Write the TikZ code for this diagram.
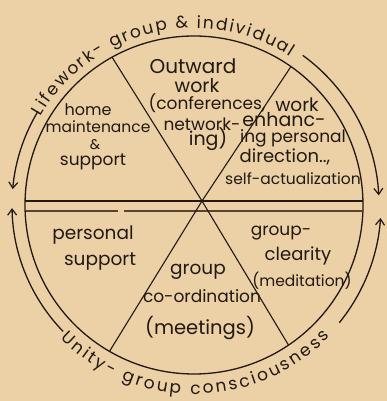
\documentclass[tikz,border=0pt]{standalone}
\usepackage{fontspec}
\setmainfont{Poppins}
\usetikzlibrary{calc,arrows.meta,decorations.text}
\definecolor{paper}{RGB}{236,208,166}
\definecolor{ink}{RGB}{32,25,20}
\definecolor{inklight}{RGB}{88,68,52}
\newcommand{\arcfont}{\fontsize{17}{19}\selectfont\color{ink}}
\begin{document}
\begin{tikzpicture}[x=1pt,y=1pt,
  hand/.style={text=ink, font=\fontsize{17}{19}\selectfont, anchor=mid, inner sep=0pt},
  handsmall/.style={hand, font=\fontsize{15.5}{17}\selectfont},
  handbig/.style={hand, font=\fontsize{20}{22}\selectfont},
  ring/.style={draw=ink, line width=1.3pt},
  spoke/.style={draw=ink, line width=1.1pt},
  flow/.style={draw=ink, line width=1.3pt, -{Straight Barb[length=6pt,width=9pt,line width=1.2pt]}},
]
\fill[paper] (0,0) rectangle (387,401);
\useasboundingbox (0,0) rectangle (387,401);
\coordinate (O) at (194,196);
\coordinate (X) at (202,200);
\draw[ring] (O) circle[radius=169];
% horizontal double line
\coordinate (hl) at (25,200);
\coordinate (hr) at (363,200);
\coordinate (ll) at (25.5,190);
\coordinate (lg1) at (118,190);
\coordinate (lg2) at (124,190);
\coordinate (lr) at (362.5,190);
\draw[draw=ink, line width=1.5pt] (hl) -- (hr);
\draw[draw=inklight, line width=1.2pt] (ll) -- (lg1) (lg2) -- (lr);
% spokes
\coordinate (tl) at ($(O)+(119:169)$);
\coordinate (tr) at ($(O)+(55:169)$);
\coordinate (bl) at ($(O)+(240:169)$);
\coordinate (br) at ($(O)+(304:169)$);
\draw[spoke] (tl) -- (X) -- (br);
\draw[spoke] (tr) -- (X) -- (bl);
% arrows
\coordinate (a1) at ($(O)+(149:182)$);
\coordinate (a2) at ($(O)+(54:185)$);
\coordinate (a3) at ($(O)+(224:182)$);
\coordinate (a4) at ($(O)+(-39:187)$);
\draw[flow] (a1) arc[start angle=149, end angle=175, radius=182];
\draw[flow] (a2) arc[start angle=54, end angle=3, radius=185];
\draw[flow] (a3) arc[start angle=224, end angle=181, radius=182];
\draw[flow] (a4) arc[start angle=-39, end angle=-4, radius=187];
% arc texts
\coordinate (t0) at ($(O)+(150:177)$);
\path[decorate, decoration={text along path, text align=fit to path,
    text={|\arcfont|Lifework- group {\&} individual}}]
  (t0) arc[start angle=150, end angle=57, radius=177];
\coordinate (b0) at ($(O)+(225:189)$);
\path[decorate, decoration={text along path, text align=fit to path,
    text={|\arcfont|Unity- group consciousness}}]
  (b0) arc[start angle=225, end angle=316, radius=189];
% top-left sector
\node[hand, font=\fontsize{16}{18}\selectfont] (h1) at (88,288) {home};
\node[hand, font=\fontsize{15.5}{17}\selectfont] (h2) at (98,271) {maintenance};
\node[hand, font=\fontsize{14}{16}\selectfont] (h3) at (95,254) {\&};
\node[hand] (h4) at (93,238) {support};
% top sector
\node[handbig] (o1) at (193,330) {Outward};
\node[handbig, font=\fontsize{19}{21}\selectfont] (o2) at (197,311) {work};
\node[hand] (o3) at (207,294) {(conferences,};
\node[hand] (o4) at (202,273) {network-};
\node[hand, font=\fontsize{19}{21}\selectfont] (o5) at (208,258) {ing)};
% top-right sector
\node[hand, font=\fontsize{18.5}{20}\selectfont] (w1) at (297,292) {work};
\node[hand, font=\fontsize{19}{21}\selectfont] (w2) at (284,277) {enhanc-};
\node[hand] (w3) at (293,261) {ing personal};
\node[hand, font=\fontsize{18}{20}\selectfont] (w4) at (285,241) {direction..,};
\node[handsmall] (w5) at (293,219) {self-actualization};
% bottom-left sector
\node[hand, font=\fontsize{18.5}{20}\selectfont] (p1) at (93,164) {personal};
\node[hand, font=\fontsize{18.5}{20}\selectfont] (p2) at (100,138) {support};
% bottom sector
\node[hand, font=\fontsize{18.5}{20}\selectfont] (g1) at (198,129) {group};
\node[hand] (g2) at (202,101) {co-ordination};
\node[hand, font=\fontsize{19.5}{21}\selectfont] (g3) at (200,69) {(meetings)};
% bottom-right sector
\node[hand] (c1) at (281,168) {group-};
\node[hand, font=\fontsize{18}{20}\selectfont] (c2) at (298,143) {clearity};
\node[handsmall] (c3) at (302,117) {(meditation)};
\end{tikzpicture}
\end{document}
